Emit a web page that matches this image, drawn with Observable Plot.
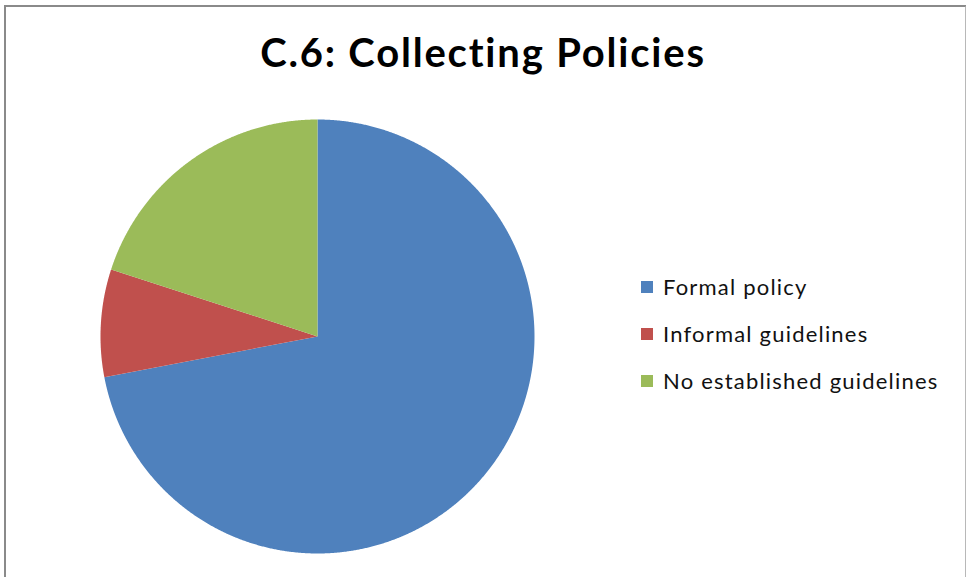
<!DOCTYPE html>
<html>
<head>
<meta charset="utf-8">
<script src="https://cdn.jsdelivr.net/npm/d3@7"></script>
<script src="https://cdn.jsdelivr.net/npm/@observablehq/plot@0.6"></script>
<style>
  html, body { margin: 0; padding: 0; background: #fff; }
  #wrap { position: relative; width: 966px; height: 577px; overflow: hidden; background: #fff; }
  #frame { position: absolute; left: 4px; top: 5px; width: 959px; height: 600px;
           border-left: 2px solid #8a8a8a; border-top: 2px solid #8a8a8a; border-right: 2px solid #b8b8b8; }
  #title { position: absolute; left: 0; width: 966px; top: 28px; text-align: center;
           font-family: Lato, "Open Sans", sans-serif; font-weight: bold; font-size: 40px; color: #000;
           letter-spacing: 1.8px; font-variant-ligatures: none; }
  #legend { position: absolute; left: 641px; top: 270px; font-family: Lato, "Open Sans", sans-serif;
            font-size: 22px; color: #111; letter-spacing: 1.2px; font-variant-ligatures: none; }
  .item { display: flex; align-items: center; height: 33px; margin-bottom: 14px; }
  .sw { width: 12px; height: 12px; margin-right: 10px; }
  svg { position: absolute; left: 0; top: 0; }
</style>
</head>
<body>
<div id="wrap">
  <div id="frame"></div>
  <div id="title">C.6: Collecting Policies</div>
  <div id="legend"></div>
</div>
<script>
const categories = ["Formal policy", "Informal guidelines", "No established guidelines"];
const values = [72, 8, 20];
const colors = ["#4F81BD", "#C0504D", "#9BBB59"];

const pie = d3.pie().sort(null).value(d => d.value);
const arcs = pie(categories.map((c, i) => ({category: c, value: values[i]})));

// Build polygon vertices for each slice from its computed angles
const pts = [];
for (const a of arcs) {
  const cat = a.data.category;
  pts.push({category: cat, x: 0, y: 0});
  const n = Math.max(2, Math.ceil((a.endAngle - a.startAngle) / (Math.PI / 720)));
  for (let k = 0; k <= n; k++) {
    const t = a.startAngle + (a.endAngle - a.startAngle) * k / n;
    pts.push({category: cat, x: Math.sin(t), y: Math.cos(t)});
  }
  pts.push({category: cat, x: 0, y: 0});
}

const chart = Plot.plot({
  width: 966,
  height: 577,
  marginLeft: 100,
  marginRight: 432,
  marginTop: 119,
  marginBottom: 24,
  x: {domain: [-1, 1], axis: null},
  y: {domain: [-1, 1], axis: null},
  color: {domain: categories, range: colors},
  style: {background: "transparent"},
  marks: [
    Plot.line(pts, {x: "x", y: "y", z: "category", fill: "category", stroke: "none", curve: "linear"})
  ]
});
document.getElementById("wrap").insertBefore(chart, document.getElementById("title"));

const legend = document.getElementById("legend");
categories.forEach((c, i) => {
  const item = document.createElement("div");
  item.className = "item";
  const sw = document.createElement("div");
  sw.className = "sw";
  sw.style.background = chart.scale("color").apply(c);
  const lab = document.createElement("span");
  lab.textContent = c;
  item.appendChild(sw);
  item.appendChild(lab);
  legend.appendChild(item);
});
</script>
</body>
</html>
